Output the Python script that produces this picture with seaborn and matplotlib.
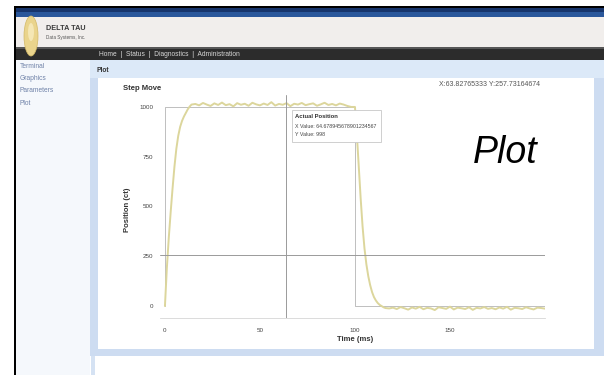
import matplotlib
matplotlib.use("Agg")
import matplotlib.pyplot as plt
from matplotlib.patches import Rectangle, Ellipse
import seaborn as sns
import pandas as pd

# ---------------- data ----------------
rise_time = [0, 1, 2, 3, 4, 5, 6, 7, 8, 9, 10, 11, 12, 13, 14]
rise_pos = [0, 190, 340, 470, 590, 700, 790, 855, 900, 930, 952, 970, 988, 1002, 1012]

hold_time = [16, 18, 20, 22, 24, 26, 28, 30, 32, 34, 36, 38, 40, 42, 44, 46, 48, 50, 52, 54,
             56, 58, 60, 62, 64, 66, 68, 70, 72, 74, 76, 78, 80, 82, 84, 86, 88, 90, 92, 94,
             96, 98]
hold_pos = [1015, 1008, 1020, 1012, 1005, 1018, 1010, 1022, 1009, 1014,
            1003, 1019, 1011, 1016, 1006, 1021, 1013, 1008, 1017, 1010,
            1024, 1007, 1015, 1011, 1019, 1004, 1016, 1012, 1020, 1009,
            1014, 1018, 1006, 1013, 1021, 1010, 1015, 1008, 1017, 1012,
            1005, 1000]

fall_time = [100, 101, 102, 103, 104, 105, 106, 107, 108, 109, 110, 111, 112, 113, 114, 115, 116]
fall_pos = [1000, 860, 700, 540, 400, 290, 210, 150, 105, 70, 45, 28, 15, 6, 0, -6, -10]

rest_time = [118, 120, 122, 124, 126, 128, 130, 132, 134, 136, 138, 140, 142, 144, 146, 148,
             150, 152, 154, 156, 158, 160, 162, 164, 166, 168, 170, 172, 174, 176, 178, 180,
             182, 184, 186, 188, 190, 192, 194, 196, 198, 200]
rest_pos = [-12, -8, -15, -5, -11, -18, -7, -13, -4, -16,
            -9, -12, -20, -6, -10, -14, -3, -17, -8, -11,
            -15, -6, -19, -9, -12, -5, -14, -10, -16, -7,
            -13, -4, -18, -9, -11, -15, -6, -12, -17, -8,
            -10, -13]

cmd_time = [0, 0, 100, 100, 200]
cmd_pos = [0, 1000, 1000, 0, 0]

cursor_x = 63.82765333
cursor_y = 257.73164674

x_ticks = [0, 50, 100, 150]
y_ticks = [0, 250, 500, 750, 1000]

menu_items = ["Terminal", "Graphics", "Parameters", "Plot"]
nav_text = "Home  |  Status  |  Diagnostics  |  Administration"

# ---------------- figure ----------------
W, H = 604, 375
sns.set_theme(style="white")
plt.rcParams['font.family'] = ['Liberation Sans', 'DejaVu Sans']

fig = plt.figure(figsize=(W / 100, H / 100), dpi=100)
fig.patch.set_facecolor("white")


def rect(x0, y0, x1, y1, color, z=0.1, ec="none", lw=0):
    fig.add_artist(Rectangle((x0 / W, 1 - y1 / H), (x1 - x0) / W, (y1 - y0) / H,
                             transform=fig.transFigure, facecolor=color,
                             edgecolor=ec, linewidth=lw, zorder=z))


def text(x, y, s, z=3, **kw):
    fig.text(x / W, 1 - y / H, s, zorder=z, **kw)


# page chrome
rect(14, 6, 604, 8, "black")
rect(14, 6, 16, 375, "black")
rect(16, 8, 604, 12, "#17356c")
rect(16, 12, 604, 17, "#2a579b")
rect(16, 17, 604, 47, "#f1eeec")
rect(16, 47, 604, 60, "#2c2c2c")
rect(16, 47, 604, 49, "#575757")

# logo
fig.add_artist(Ellipse((31 / W, 1 - 36 / H), 14 / W, 40 / H, transform=fig.transFigure,
                       facecolor="#ead48c", edgecolor="#d2b865", lw=0.5, zorder=0.2))
fig.add_artist(Ellipse((31 / W, 1 - 32 / H), 6 / W, 18 / H, transform=fig.transFigure,
                       facecolor="#f5e7b5", edgecolor="none", zorder=0.3))
text(46, 29, "DELTA TAU", fontsize=5.2, fontweight="bold", color="#3a3a3a", va="center")
text(46, 37, "Data Systems, Inc.", fontsize=3.3, color="#555555", va="center")

# nav text
text(99, 54, nav_text, fontsize=4.8, color="#d8d8d8", va="center")

# left sidebar
rect(16, 60, 90, 375, "#f5f8fc")
for i, item in enumerate(menu_items):
    text(20, 66 + 12.5 * i, item, fontsize=4.8, color="#6f82a8", va="center")

# panel
rect(90, 60, 604, 356, "#cddcf1")
rect(90, 60, 604, 78, "#dce9f8")
rect(98, 78, 594, 349, "white")
rect(91, 356, 95, 375, "#d5e2f3")
text(97, 71, "Plot", fontsize=4.8, fontweight="bold", color="#333333", va="center")

# ---------------- chart ----------------
ax = fig.add_axes([160 / W, 1 - 318 / H, 385 / W, 223 / H])
ax.set_zorder(5)
ax.patch.set_alpha(0)

cmd_df = pd.DataFrame({"time": cmd_time, "position": cmd_pos})
act_df = pd.DataFrame({"time": rise_time + hold_time + fall_time + rest_time,
                       "position": rise_pos + hold_pos + fall_pos + rest_pos})

sns.lineplot(data=cmd_df, x="time", y="position", ax=ax, sort=False, estimator=None,
             color="#b4b4b4", linewidth=0.6)
sns.lineplot(data=act_df, x="time", y="position", ax=ax, sort=False, estimator=None,
             color="#dcd69c", linewidth=1.4)

ax.axvline(cursor_x, color="#9a9a9a", linewidth=0.7)
ax.axhline(cursor_y, color="#9a9a9a", linewidth=0.7)

ax.set_xlim(-2.6, 200)
ax.set_ylim(-60, 1060)
ax.set_xticks(x_ticks)
ax.set_yticks(y_ticks)
ax.tick_params(axis="both", labelsize=4.5, colors="#444444", length=2, width=0.5, pad=3)
ax.tick_params(axis="x", pad=5)
for s in ["top", "right", "left"]:
    ax.spines[s].set_visible(False)
ax.spines["bottom"].set_color("#d6d6d6")
ax.spines["bottom"].set_linewidth(0.6)

ax.set_xlabel("Time (ms)", fontsize=5.5, fontweight="bold", color="#333333")
ax.set_ylabel("Position (ct)", fontsize=5.5, fontweight="bold", color="#333333")
ax.xaxis.set_label_coords((355 - 160) / 385, (318 - 336) / 223)
ax.yaxis.set_label_coords((131 - 160) / 385, (318 - 210) / 223)

# chart texts
text(123, 88, "Step Move", fontsize=5.5, fontweight="bold", color="#333333", va="center")
text(540, 85, f"X:{cursor_x:.8f} Y:{cursor_y:.8f}", fontsize=5.0, color="#555555",
     va="center", ha="right")

# tooltip
rect(292, 110, 381, 142, "white", z=8, ec="#c8c8c8", lw=0.6)
text(295, 117, "Actual Position", z=9, fontsize=4.2, fontweight="bold", color="#333333", va="center")
text(295, 126, "X Value: 64.678945678901234567", z=9, fontsize=3.8, color="#444444", va="center")
text(295, 135, "Y Value: 998", z=9, fontsize=3.8, color="#444444", va="center")

# big label
text(505, 163, "Plot", z=9, fontsize=27, fontstyle="italic", color="black",
     ha="center", va="baseline")

fig.savefig("out.png", dpi=100)
